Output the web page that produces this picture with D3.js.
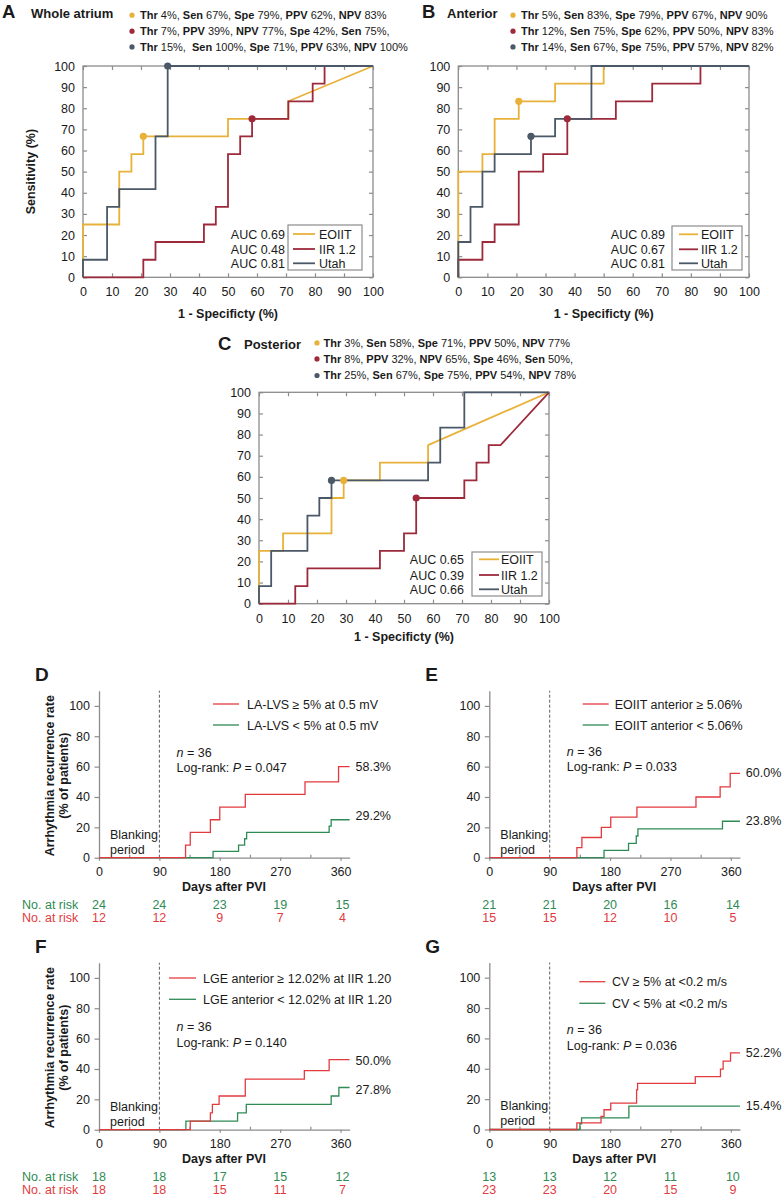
<!DOCTYPE html>
<html><head><meta charset="utf-8">
<script src="https://cdn.jsdelivr.net/npm/d3@7"></script>
<style>
body{margin:0;background:#fff}
svg{display:block}
text{font-family:"Liberation Sans",Arial,Helvetica,sans-serif;fill:#1a1a1a;white-space:pre}
</style>
</head><body>
<svg id="c" width="784" height="1197"></svg>
<script>
// ---------------- DATA ----------------
const rocTicks = [0,10,20,30,40,50,60,70,80,90,100];
const rocSeries = ["EOIIT","IIR 1.2","Utah"];
const rocColors = ["#e8b23a","#9d2a3b","#4a5867"];

// Panel A – whole atrium (1-specificity %, sensitivity %)
const rocA_EOIIT = [[0,0],[0,25],[12.5,25],[12.5,50],[16.7,50],[16.7,58.3],[20.8,58.3],[20.8,66.7],[50,66.7],[50,75],[70.8,75],[70.8,83.3],[100,100]];
const rocA_IIR = [[0,0],[20.8,0],[20.8,8.3],[25,8.3],[25,16.7],[41.7,16.7],[41.7,25],[45.8,25],[45.8,33.3],[50,33.3],[50,58.3],[54.2,58.3],[54.2,66.7],[58.3,66.7],[58.3,75],[70.8,75],[70.8,83.3],[79.2,83.3],[79.2,91.7],[83.3,91.7],[83.3,100],[100,100]];
const rocA_Utah = [[0,0],[0,8.3],[8.3,8.3],[8.3,33.3],[12.5,33.3],[12.5,41.7],[25,41.7],[25,66.7],[29.2,66.7],[29.2,100],[100,100]];
const rocA_points = [[20.8,66.7],[58.3,75],[29.2,100]];
const rocA_auc = ["AUC 0.69","AUC 0.48","AUC 0.81"];
const thrA = ["Thr 4%, Sen 67%, Spe 79%, PPV 62%, NPV 83%",
              "Thr 7%, PPV 39%, NPV 77%, Spe 42%, Sen 75%,",
              "Thr 15%,  Sen 100%, Spe 71%, PPV 63%, NPV 100%"];

// Panel B – anterior
const rocB_EOIIT = [[0,0],[0,50],[8.3,50],[8.3,58.3],[12.5,58.3],[12.5,75],[20.8,75],[20.8,83.3],[33.3,83.3],[33.3,91.7],[50,91.7],[50,100],[100,100]];
const rocB_IIR = [[0,0],[0,8.3],[8.3,8.3],[8.3,16.7],[12.5,16.7],[12.5,25],[20.8,25],[20.8,50],[29.2,50],[29.2,58.3],[37.5,58.3],[37.5,75],[54.2,75],[54.2,83.3],[66.7,83.3],[66.7,91.7],[83.3,91.7],[83.3,100],[100,100]];
const rocB_Utah = [[0,0],[0,16.7],[4.2,16.7],[4.2,33.3],[8.3,33.3],[8.3,50],[12.5,50],[12.5,58.3],[25,58.3],[25,66.7],[33.3,66.7],[33.3,75],[45.8,75],[45.8,100],[100,100]];
const rocB_points = [[20.8,83.3],[37.5,75],[25,66.7]];
const rocB_auc = ["AUC 0.89","AUC 0.67","AUC 0.81"];
const thrB = ["Thr 5%, Sen 83%, Spe 79%, PPV 67%, NPV 90%",
              "Thr 12%, Sen 75%, Spe 62%, PPV 50%, NPV 83%",
              "Thr 14%, Sen 67%, Spe 75%, PPV 57%, NPV 82%"];

// Panel C – posterior
const rocC_EOIIT = [[0,0],[0,25],[8.3,25],[8.3,33.3],[25,33.3],[25,50],[29.2,50],[29.2,58.3],[41.7,58.3],[41.7,66.7],[58.3,66.7],[58.3,75],[100,100]];
const rocC_IIR = [[0,0],[12.5,0],[12.5,8.3],[16.7,8.3],[16.7,16.7],[41.7,16.7],[41.7,25],[50,25],[50,33.3],[54.2,33.3],[54.2,50],[70.8,50],[70.8,58.3],[75,58.3],[75,66.7],[79.2,66.7],[79.2,75],[83.3,75],[100,100]];
const rocC_Utah = [[0,0],[0,8.3],[4.2,8.3],[4.2,25],[16.7,25],[16.7,41.7],[20.8,41.7],[20.8,50],[25,50],[25,58.3],[58.3,58.3],[58.3,66.7],[62.5,66.7],[62.5,83.3],[70.8,83.3],[70.8,100],[100,100]];
const rocC_points = [[29.2,58.3],[54.2,50],[25,58.3]];
const rocC_auc = ["AUC 0.65","AUC 0.39","AUC 0.66"];
const thrC = ["Thr 3%, Sen 58%, Spe 71%, PPV 50%, NPV 77%",
              "Thr 8%, PPV 32%, NPV 65%, Spe 46%, Sen 50%,",
              "Thr 25%, Sen 67%, Spe 75%, PPV 54%, NPV 78%"];

// Kaplan–Meier panels (day, cumulative recurrence %)
const kmXTicks = [0,90,180,270,360];
const kmXMinor = [45,135,225,315];
const kmYTicks = [0,20,40,60,80,100];
const kmColors = ["#e23b3f","#2f8a55"];

const kmD_red = [[0,0],[129,8.3],[136,16.7],[166,25],[180,33.3],[218,41.7],[307,50],[357,60],[373.5,60]];
const kmD_green = [[0,0],[170,4.2],[208,8.3],[217,12.5],[220,16.7],[343,20.8],[346,25],[373.5,25]];
const kmD_legend = ["LA-LVS \u2265 5% at 0.5 mV","LA-LVS < 5% at 0.5 mV"];
const kmD_end = ["58.3%","29.2%"];
const kmD_p = "0.047";
const kmD_riskGreen = [24,24,23,19,15];
const kmD_riskRed = [12,12,9,7,4];

const kmE_red = [[0,0],[130.5,6.7],[138,13.3],[167,20],[181,26.7],[220,33.3],[308,40],[344,46.7],[359,55.6],[373.5,55.6]];
const kmE_green = [[0,0],[171,4.8],[207.5,9.5],[219,14.3],[221.5,19],[347.5,24],[373.5,24]];
const kmE_legend = ["EOIIT anterior \u2265 5.06%","EOIIT anterior < 5.06%"];
const kmE_end = ["60.0%","23.8%"];
const kmE_p = "0.033";
const kmE_riskGreen = [21,21,20,16,14];
const kmE_riskRed = [15,15,12,10,5];

const kmF_red = [[0,0],[136,5.6],[166,11.1],[169,16.7],[179,22.2],[218,33.3],[306,38.9],[343,46.2],[373.5,46.2]];
const kmF_green = [[0,0],[129.5,5.6],[206.5,11.1],[219.5,16.7],[346,22.2],[357.5,27.8],[373.5,27.8]];
const kmF_legend = ["LGE anterior \u2265 12.02% at IIR 1.20","LGE anterior < 12.02% at IIR 1.20"];
const kmF_end = ["50.0%","27.8%"];
const kmF_p = "0.140";
const kmF_riskGreen = [18,18,17,15,12];
const kmF_riskRed = [18,18,15,11,7];

const kmG_red = [[0,0],[130.5,4.3],[166.5,8.7],[171,13],[181,17.4],[219.5,26.1],[221,30.4],[307,34.8],[344.5,39.8],[348.5,45],[359.5,50.5],[373.5,50.5]];
const kmG_green = [[0,0],[135,3.8],[137.5,7.7],[208,15.4],[373.5,15.4]];
const kmG_legend = ["CV \u2265 5% at <0.2 m/s","CV < 5% at <0.2 m/s"];
const kmG_end = ["52.2%","15.4%"];
const kmG_p = "0.036";
const kmG_riskGreen = [13,13,12,11,10];
const kmG_riskRed = [23,23,20,15,9];

// ---------------- DRAWING ----------------
const svg = d3.select("#c");
const AXIS = "#8c8c8c";

function richText(sel, str) {
  str.split(/(Thr|Sen|Spe|PPV|NPV)/).filter(s => s.length).forEach(p => {
    sel.append("tspan")
      .attr("font-weight", /^(Thr|Sen|Spe|PPV|NPV)$/.test(p) ? "bold" : "normal")
      .text(p);
  });
}

function styleAxis(g) {
  g.selectAll(".domain").remove();
  g.selectAll(".tick line").attr("stroke", AXIS).attr("stroke-width", 1.2);
  g.selectAll(".tick text").attr("font-size", 12.5).attr("fill", "#1a1a1a")
    .attr("font-family", '"Liberation Sans",Arial,sans-serif');
}

function drawROC(c) {
  const x = d3.scaleLinear().domain([0,100]).range([c.x0, c.x1]);
  const y = d3.scaleLinear().domain([0,100]).range([c.y0, c.y1]);
  const g = svg.append("g");

  // header
  g.append("text").attr("x", c.letterX).attr("y", c.letterY).attr("font-size", 18.5)
    .attr("font-weight", "bold").text(c.letter);
  g.append("text").attr("x", c.titleX).attr("y", c.titleY).attr("font-size", 13)
    .attr("font-weight", "bold").text(c.title);
  c.thr.forEach((s, i) => {
    g.append("circle").attr("cx", c.bulletX).attr("cy", c.thrY[i] - 3.8).attr("r", 2.6)
      .attr("fill", rocColors[i]);
    const t = g.append("text").attr("x", c.thrX).attr("y", c.thrY[i]).attr("font-size", 11);
    richText(t, s);
  });

  // axes
  g.append("g").attr("transform", `translate(0,${c.y0})`)
    .call(d3.axisBottom(x).tickValues(rocTicks).tickSizeInner(-4).tickSizeOuter(0).tickPadding(10))
    .call(styleAxis);
  g.append("g").attr("transform", `translate(${c.x0},0)`)
    .call(d3.axisLeft(y).tickValues(rocTicks).tickSizeInner(-4).tickSizeOuter(0).tickPadding(8))
    .call(styleAxis);
  g.append("g").attr("transform", `translate(0,${c.y1})`)
    .call(d3.axisTop(x).tickValues(rocTicks).tickSizeInner(-4).tickSizeOuter(0).tickFormat(""))
    .call(styleAxis);
  g.append("g").attr("transform", `translate(${c.x1},0)`)
    .call(d3.axisRight(y).tickValues(rocTicks).tickSizeInner(-4).tickSizeOuter(0).tickFormat(""))
    .call(styleAxis);
  g.append("rect").attr("x", c.x0).attr("y", c.y1).attr("width", c.x1 - c.x0)
    .attr("height", c.y0 - c.y1).attr("fill", "none").attr("stroke", AXIS).attr("stroke-width", 1.3);

  // axis titles
  g.append("text").attr("x", (c.x0 + c.x1) / 2).attr("y", c.xTitleY).attr("text-anchor", "middle")
    .attr("font-size", 12.5).attr("font-weight", "bold").text("1 - Specificty (%)");
  if (c.yTitle) {
    g.append("text").attr("transform", `translate(${c.x0 - 48},${(c.y0 + c.y1) / 2}) rotate(-90)`)
      .attr("text-anchor", "middle").attr("font-size", 12.5).attr("font-weight", "bold").text("Sensitivity (%)");
  }

  // curves
  const line = d3.line().x(d => x(d[0])).y(d => y(d[1]));
  c.curves.forEach((d, i) => {
    g.append("path").attr("d", line(d)).attr("fill", "none").attr("stroke", rocColors[i])
      .attr("stroke-width", 1.8).attr("stroke-linejoin", "miter");
  });
  c.points.forEach((p, i) => {
    g.append("circle").attr("cx", x(p[0])).attr("cy", y(p[1])).attr("r", 3.6).attr("fill", rocColors[i]);
  });

  // legend
  const L = c.leg;
  g.append("rect").attr("x", L.x).attr("y", L.y).attr("width", L.w).attr("height", L.h)
    .attr("fill", "#fff").attr("stroke", AXIS).attr("stroke-width", 1.2);
  rocSeries.forEach((s, i) => {
    const cy = L.rows[i];
    g.append("line").attr("x1", L.lx1).attr("x2", L.lx2).attr("y1", cy).attr("y2", cy)
      .attr("stroke", rocColors[i]).attr("stroke-width", 1.8);
    g.append("text").attr("x", L.tx).attr("y", cy + 4.5).attr("font-size", 12.5).text(s);
    g.append("text").attr("x", L.ax).attr("y", cy + 4.5).attr("font-size", 12.5)
      .attr("text-anchor", "end").text(c.auc[i]);
  });
}

function drawKM(c) {
  const PXD = 0.671, PXY = 1.518;
  const x = d3.scaleLinear().domain([0, 373.5]).range([c.x0, c.x0 + 373.5 * PXD]);
  const y = d3.scaleLinear().domain([0, 110]).range([c.y0, c.y0 - 110 * PXY]);
  const g = svg.append("g");

  g.append("text").attr("x", c.x0 - 64).attr("y", c.y0 - 177).attr("font-size", 19)
    .attr("font-weight", "bold").text(c.letter);

  // dashed blanking line
  g.append("line").attr("x1", x(90)).attr("x2", x(90)).attr("y1", y(0)).attr("y2", y(110))
    .attr("stroke", "#333").attr("stroke-width", 0.8).attr("stroke-dasharray", "3,2");

  // axes
  const ay = g.append("g").attr("transform", `translate(${c.x0},0)`)
    .call(d3.axisLeft(y).tickValues(kmYTicks).tickSizeInner(4.5).tickSizeOuter(0).tickPadding(4.5));
  ay.select(".domain").attr("stroke", AXIS).attr("stroke-width", 1.3);
  ay.selectAll(".tick line").attr("stroke", AXIS).attr("stroke-width", 1.2);
  ay.selectAll(".tick text").attr("font-size", 12.5).attr("fill", "#1a1a1a")
    .attr("font-family", '"Liberation Sans",Arial,sans-serif');
  const ax = g.append("g").attr("transform", `translate(0,${c.y0})`)
    .call(d3.axisBottom(x).tickValues(kmXTicks).tickSizeInner(3).tickSizeOuter(0).tickPadding(6.5));
  ax.select(".domain").attr("stroke", AXIS).attr("stroke-width", 1.3);
  ax.selectAll(".tick line").attr("stroke", AXIS).attr("stroke-width", 1.2);
  ax.selectAll(".tick text").attr("font-size", 12.5).attr("fill", "#1a1a1a")
    .attr("font-family", '"Liberation Sans",Arial,sans-serif');
  g.append("g").attr("transform", `translate(0,${c.y0})`)
    .call(d3.axisTop(x).tickValues(kmXMinor).tickSizeInner(3).tickSizeOuter(0).tickFormat(""))
    .call(s => { s.select(".domain").remove(); s.selectAll(".tick line").attr("stroke", AXIS).attr("stroke-width", 1.2); });

  // titles
  g.append("text").attr("x", c.x0 + 125).attr("y", c.y0 + 33.5).attr("text-anchor", "middle")
    .attr("font-size", 12.5).attr("font-weight", "bold").text("Days after PVI");
  if (c.yTitle) {
    const cy = c.y0 - 82;
    g.append("text").attr("transform", `translate(${c.x0 - 45},${cy}) rotate(-90)`)
      .attr("text-anchor", "middle").attr("font-size", 12.5).attr("font-weight", "bold")
      .text("Arrhythmia recurrence rate");
    g.append("text").attr("transform", `translate(${c.x0 - 31},${cy}) rotate(-90)`)
      .attr("text-anchor", "middle").attr("font-size", 12.5).attr("font-weight", "bold")
      .text("(% of patients)");
  }

  // curves
  const line = d3.line().x(d => x(d[0])).y(d => y(d[1])).curve(d3.curveStepAfter);
  g.append("path").attr("d", line(c.green)).attr("fill", "none").attr("stroke", kmColors[1]).attr("stroke-width", 1.3);
  g.append("path").attr("d", line(c.red)).attr("fill", "none").attr("stroke", kmColors[0]).attr("stroke-width", 1.3);

  // legend
  c.legend.forEach((s, i) => {
    const ly = c.y0 - c.legY[i];
    g.append("line").attr("x1", c.x0 + c.legX[0]).attr("x2", c.x0 + c.legX[1]).attr("y1", ly).attr("y2", ly)
      .attr("stroke", kmColors[i]).attr("stroke-width", 1.3);
    g.append("text").attr("x", c.x0 + c.legX[2]).attr("y", ly + 4.5).attr("font-size", 12.5).text(s);
  });

  // stats
  const nt = g.append("text").attr("x", c.x0 + 77.5).attr("y", c.y0 - c.statY[0]).attr("font-size", 12.5);
  nt.append("tspan").attr("font-style", "italic").text("n");
  nt.append("tspan").text(" = 36");
  const lt = g.append("text").attr("x", c.x0 + 77.5).attr("y", c.y0 - c.statY[1]).attr("font-size", 12.5);
  lt.append("tspan").text("Log-rank: ");
  lt.append("tspan").attr("font-style", "italic").text("P");
  lt.append("tspan").text(" = " + c.p);

  // end labels
  c.end.forEach((s, i) => {
    g.append("text").attr("x", c.x0 + 256.5).attr("y", c.y0 - c.endY[i]).attr("font-size", 12.5).text(s);
  });

  // blanking period
  g.append("text").attr("x", c.x0 + 11).attr("y", c.y0 - 19.2).attr("font-size", 12.5).text("Blanking");
  g.append("text").attr("x", c.x0 + 11).attr("y", c.y0 - 4.2).attr("font-size", 12.5).text("period");

  // numbers at risk
  const rows = [[c.riskGreen, kmColors[1], 51.3], [c.riskRed, kmColors[0], 64]];
  rows.forEach(([vals, col, dy]) => {
    if (c.yTitle) {
      g.append("text").attr("x", c.x0 - 77).attr("y", c.y0 + dy).attr("font-size", 12.5)
        .style("fill", col).text("No. at risk");
    }
    vals.forEach((v, j) => {
      g.append("text").attr("x", x(kmXTicks[j]) + (j === 4 ? 2 : 0)).attr("y", c.y0 + dy)
        .attr("text-anchor", "middle").attr("font-size", 12.5).style("fill", col).text(v);
    });
  });
}

// ROC panels
drawROC({letter:"A", letterX:2, letterY:18.3, title:"Whole atrium", titleX:31, titleY:17.8,
  bulletX:132, thrX:140, thrY:[19,35,50.7], thr:thrA,
  x0:83, x1:373, y0:277.3, y1:66, xTitleY:318.3, yTitle:true,
  curves:[rocA_EOIIT, rocA_IIR, rocA_Utah], points:rocA_points, auc:rocA_auc,
  leg:{x:288, y:225, w:74, h:45, rows:[234,249,263.3], lx1:293, lx2:315, tx:319, ax:285}});
drawROC({letter:"B", letterX:422, letterY:18.3, title:"Anterior", titleX:447, titleY:17.8,
  bulletX:513, thrX:521, thrY:[19,35,50.7], thr:thrB,
  x0:458.3, x1:749, y0:277.3, y1:66, xTitleY:318.3, yTitle:false,
  curves:[rocB_EOIIT, rocB_IIR, rocB_Utah], points:rocB_points, auc:rocB_auc,
  leg:{x:672, y:226, w:70, h:44, rows:[234.3,249.3,263.3], lx1:679, lx2:698, tx:701, ax:665}});
drawROC({letter:"C", letterX:218, letterY:350, title:"Posterior", titleX:244, titleY:349,
  bulletX:317, thrX:323.5, thrY:[346.7,362.7,379.3], thr:thrC,
  x0:259, x1:549, y0:603.7, y1:392.3, xTitleY:641, yTitle:false,
  curves:[rocC_EOIIT, rocC_IIR, rocC_Utah], points:rocC_points, auc:rocC_auc,
  leg:{x:472, y:552, w:70, h:44, rows:[559.3,575,589.3], lx1:479, lx2:499, tx:501, ax:464}});

// KM panels
drawKM({letter:"D", x0:99, y0:857.7, yTitle:true, red:kmD_red, green:kmD_green, legend:kmD_legend,
  legX:[114,140,148], legY:[153.7,132.7], statY:[100.5,85.5], p:kmD_p, end:kmD_end, endY:[87.2,37.7],
  riskGreen:kmD_riskGreen, riskRed:kmD_riskRed});
drawKM({letter:"E", x0:489.3, y0:857.7, yTitle:false, red:kmE_red, green:kmE_green, legend:kmE_legend,
  legX:[93.4,119.4,125.4], legY:[153.7,132.7], statY:[101.5,86.5], p:kmE_p, end:kmE_end, endY:[81.2,32.7],
  riskGreen:kmE_riskGreen, riskRed:kmE_riskRed});
drawKM({letter:"F", x0:99, y0:1129.7, yTitle:true, red:kmF_red, green:kmF_green, legend:kmF_legend,
  legX:[70,97,104], legY:[151.7,130.4], statY:[98.5,83.2], p:kmF_p, end:kmF_end, endY:[65.2,35.9],
  riskGreen:kmF_riskGreen, riskRed:kmF_riskRed});
drawKM({letter:"G", x0:489.3, y0:1129.5, yTitle:false, red:kmG_red, green:kmG_green, legend:kmG_legend,
  legX:[90,116,122.7], legY:[147.8,126.2], statY:[95.7,80], p:kmG_p, end:kmG_end, endY:[72.3,19.3],
  riskGreen:kmG_riskGreen, riskRed:kmG_riskRed});
</script>
</body></html>
